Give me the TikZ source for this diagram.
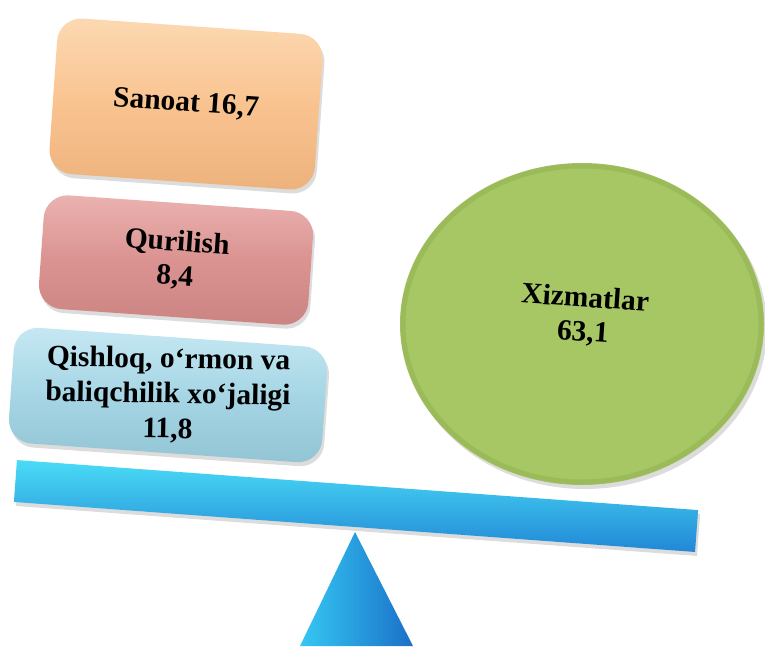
\documentclass[tikz,border=0pt]{standalone}
\usepackage{fontspec}
\setmainfont{Liberation Serif}
\usetikzlibrary{shapes.geometric,shadows}
\definecolor{orgbase}{HTML}{F9C390}
\definecolor{orgtop}{HTML}{FCD9B2}
\definecolor{orgbot}{HTML}{EDB27C}
\definecolor{pnkbase}{HTML}{DA9391}
\definecolor{pnktop}{HTML}{EBB3B1}
\definecolor{pnkbot}{HTML}{CB8482}
\definecolor{blubase}{HTML}{A6D6E5}
\definecolor{blutop}{HTML}{C6E8F3}
\definecolor{blubot}{HTML}{92C4D4}
\definecolor{grnbase}{HTML}{A7C765}
\definecolor{grnedge}{HTML}{8AA94A}
\definecolor{beamtop}{HTML}{4ADCF6}
\definecolor{beambot}{HTML}{2187D6}
\definecolor{tritop}{HTML}{35C8F3}
\definecolor{tribot}{HTML}{1B70C8}
\tikzset{
  blocktext/.style={font=\bfseries\fontsize{29.5}{34}\selectfont, align=center, text=black},
  block/.style={rectangle, rounded corners=24pt, rotate=-4,
    drop shadow={opacity=0.28, shadow xshift=2pt, shadow yshift=-4pt}},
}
\begin{document}
\begin{tikzpicture}[x=1pt,y=-1pt]
\useasboundingbox (0,0) rectangle (765,646);
% Sanoat
\node[block, blocktext, minimum width=266pt, minimum height=156pt,
  top color=orgtop, bottom color=orgbot, middle color=orgbase] (san) at (186,104) {Sanoat 16,7};
% Qurilish
\node[block, blocktext, minimum width=270pt, minimum height=114pt,
  top color=pnktop, bottom color=pnkbot, middle color=pnkbase] (qur) at (176,260) {Qurilish\\8,4};
% Qishloq
\node[block, minimum width=314pt, minimum height=116pt,
  top color=blutop, bottom color=blubot, middle color=blubase] (qis) at (168,395) {};
\node[blocktext, rotate=-1, font=\bfseries\fontsize{29.5}{35}\selectfont] (qistext) at (qis.center)
  {Qishloq, o‘rmon va\\baliqchilik xo‘jaligi\\11,8};
% Xizmatlar circle
\node[ellipse, minimum width=364pt, minimum height=322pt, fill=grnbase,
  drop shadow={opacity=0.28, shadow xshift=3pt, shadow yshift=-4pt}]
  (xiz) at (582,324) {};
\draw[grnedge, line width=5pt, opacity=0.4]
  (xiz.center) ellipse [x radius=179pt, y radius=158pt];
\node[blocktext, rotate=-4] (xiztext) at (584,316) {Xizmatlar\\63,1};
% beam
\node[rectangle, rotate=-4.2, minimum width=683pt, minimum height=42pt,
  top color=beamtop, bottom color=beambot,
  drop shadow={opacity=0.28, shadow xshift=2pt, shadow yshift=-4pt}] (beam) at (356,506) {};
% fulcrum
\coordinate (apex) at (355,532);
\coordinate (bl) at (300,646);
\coordinate (br) at (413,646);
\shade[left color=tritop, right color=tribot] (apex) -- (br) -- (bl) -- cycle;
\end{tikzpicture}
\end{document}
